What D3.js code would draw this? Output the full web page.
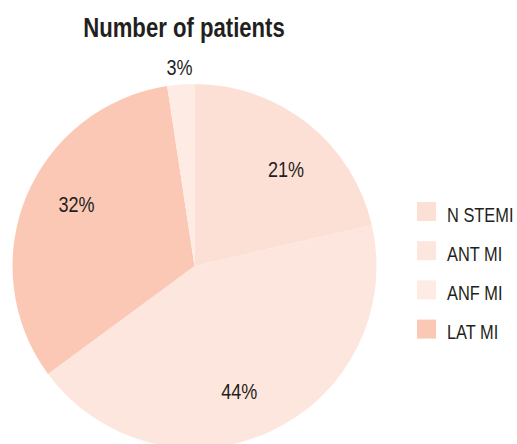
<!DOCTYPE html>
<html>
<head>
<meta charset="utf-8">
<script src="https://cdn.jsdelivr.net/npm/d3@7"></script>
<style>
  body { margin: 0; background: #fff; }
  text { font-family: "Liberation Sans", Arial, sans-serif; fill: #231f20; }
</style>
</head>
<body>
<svg id="chart" width="517" height="444"></svg>
<script>
// chart data
const categories = ["N STEMI", "ANT MI", "ANF MI", "LAT MI"];
const shares = [21.4, 43.5, 2.4, 32.7];          // slice sizes
const shareLabels = ["21%", "44%", "3%", "32%"];  // labels as printed
const colors = ["#fde0d5", "#fde6dd", "#feebe4", "#fbc8b6"];
// order slices go round the pie, clockwise from 12 o'clock
const pieOrder = ["N STEMI", "ANT MI", "LAT MI", "ANF MI"];

const width = 517, height = 444;
const cx = 194.5, cy = 266, radius = 182;
const narrow = 0.82;   // no condensed font installed, squeeze a regular one

const svg = d3.select("#chart");

// put a horizontally squeezed text at x,y
function narrowText(parent, x, y, anchor) {
  return parent.append("g")
    .attr("transform", `translate(${x},${y}) scale(${narrow},1)`)
    .append("text")
    .attr("text-anchor", anchor);
}

// title
narrowText(svg, 184, 37, "middle")
  .style("font-size", "27px")
  .style("font-weight", "bold")
  .text("Number of patients");

let rows = categories.map((c, i) => ({
  name: c, value: shares[i], label: shareLabels[i], color: colors[i]
}));
let pieRows = pieOrder.map(n => rows.find(r => r.name === n));

let pie = d3.pie().sort(null).value(d => d.value);
let arc = d3.arc().innerRadius(0).outerRadius(radius);

let g = svg.append("g").attr("transform", `translate(${cx},${cy})`);
let arcs = pie(pieRows);

g.selectAll("path")
  .data(arcs)
  .enter()
  .append("path")
  .attr("d", arc)
  .attr("fill", d => d.data.color);

// labels: inside for big slices, just outside for tiny ones
function labelPos(d) {
  let mid = (d.startAngle + d.endAngle) / 2;
  let span = d.endAngle - d.startAngle;
  let r, a;
  if (span < 0.3) {
    r = radius + 17;
    a = mid;
  } else {
    r = 133;
    a = mid + 5 * Math.PI / 180;
  }
  return [r * Math.sin(a), -r * Math.cos(a)];
}

arcs.forEach(d => {
  let p = labelPos(d);
  narrowText(g, p[0], p[1], "middle")
    .attr("dy", "0.35em")
    .style("font-size", "22px")
    .text(d.data.label);
});

// legend
let legend = svg.append("g").attr("transform", "translate(417,202)");
rows.forEach((d, i) => {
  let item = legend.append("g").attr("transform", `translate(0,${i * 39.2})`);
  item.append("rect")
    .attr("width", 19)
    .attr("height", 19)
    .attr("fill", d.color);
  narrowText(item, 30, 19.5, "start")
    .style("font-size", "20px")
    .text(d.name);
});
</script>
</body>
</html>
